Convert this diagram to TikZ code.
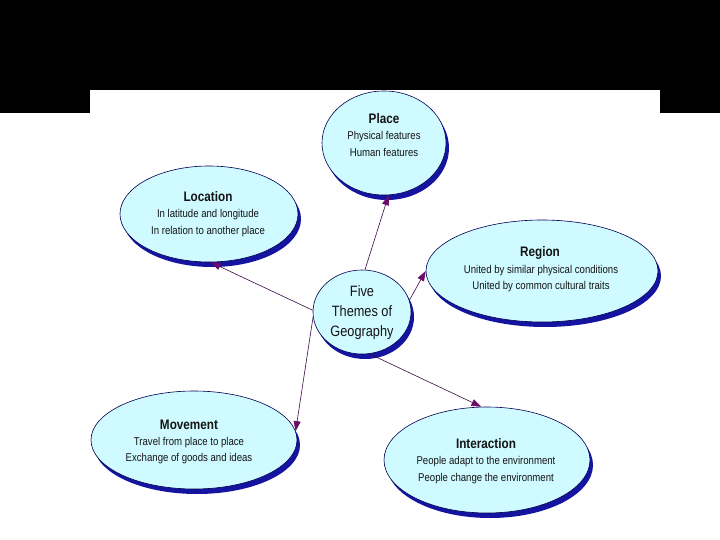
\documentclass[tikz,border=0pt]{standalone}
\usepackage{fontspec}
\setmainfont{Liberation Sans}[FakeStretch=0.85]
\usetikzlibrary{shapes.geometric,arrows.meta,shadows}
\definecolor{bubfill}{HTML}{CFFAFF}
\definecolor{bubline}{HTML}{000050}
\definecolor{bubshadow}{HTML}{1414A0}
\definecolor{conline}{HTML}{3A0A45}
\definecolor{contip}{HTML}{6A0A6A}
\definecolor{txt}{HTML}{141414}
\begin{document}
\begin{tikzpicture}[x=1pt,y=-1pt,
  bubble/.style={ellipse, draw=bubline, line width=0.6pt, fill=bubfill, inner sep=0pt,
    drop shadow={shadow xshift=3pt, shadow yshift=-5pt, fill=bubshadow, opacity=1}},
  ttl/.style={font=\bfseries\fontsize{13.8}{15}\selectfont, text=txt, inner sep=0pt},
  body/.style={font=\fontsize{11.3}{16.5}\selectfont, align=center, text=txt, inner sep=0pt},
  mid/.style={font=\fontsize{15}{20}\selectfont, align=center, text=txt, inner sep=0pt},
  conn/.style={draw=conline, line width=0.6pt, -{Triangle[length=10pt,width=7pt,color=contip]}}
]
\fill[white] (0,0) rectangle (720,540);
\fill[black] (0,0) rectangle (720,90);
\fill[black] (0,90) rectangle (90,113);
\fill[black] (660,90) rectangle (720,113);
\useasboundingbox (0,0) rectangle (720,540);

\node[bubble, minimum width=98pt, minimum height=84pt] (center) at (362,312) {};
\node[bubble, minimum width=124pt, minimum height=104pt] (place) at (384,143) {};
\node[bubble, minimum width=178pt, minimum height=96pt] (location) at (209,214) {};
\node[bubble, minimum width=232pt, minimum height=102pt] (region) at (542,271) {};
\node[bubble, minimum width=206pt, minimum height=98pt] (movement) at (194,440) {};
\node[bubble, minimum width=206pt, minimum height=106pt] (interaction) at (487,460) {};

\draw[conn] (center.86) -- (place.-85);
\draw[conn] (center.178) -- (location.-88);
\draw[conn] (center.14) -- (region.180);
\draw[conn] (center.186) -- (movement.5);
\draw[conn] (center.-80) -- (interaction.96);

\node[mid] (centerT) at (362,313) {Five\\Themes of\\Geography};

\node[ttl] (placeT) at (384,119) {Place};
\node[body] (placeB) at (384,144) {Physical features\\Human features};

\node[ttl] (locationT) at (208,197) {Location};
\node[body] (locationB) at (208,223) {In latitude and longitude\\In relation to another place};

\node[ttl] (regionT) at (540,253) {Region};
\node[body] (regionB) at (541,278.5) {United by similar physical conditions\\United by common cultural traits};

\node[ttl] (movementT) at (189,425) {Movement};
\node[body] (movementB) at (189,450.5) {Travel from place to place\\Exchange of goods and ideas};

\node[ttl] (interactionT) at (486,444) {Interaction};
\node[body] (interactionB) at (486,470) {People adapt to the environment\\People change the environment};
\end{tikzpicture}
\end{document}
